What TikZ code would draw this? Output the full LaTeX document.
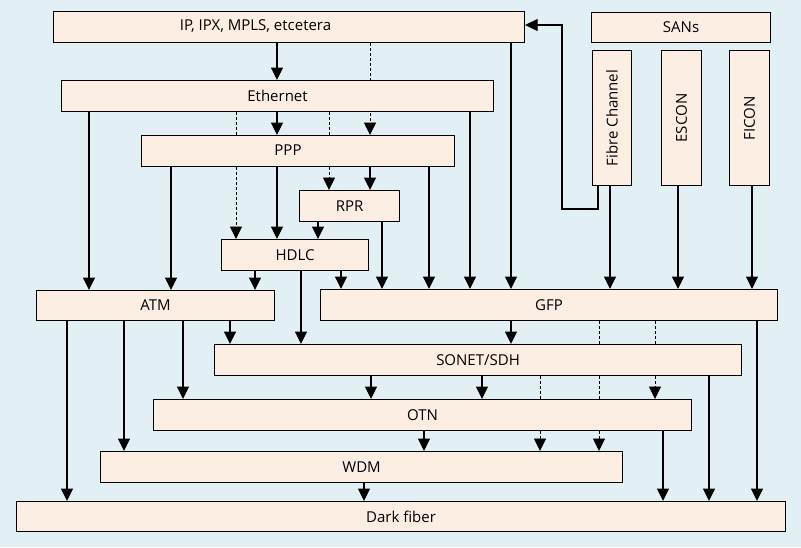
\documentclass[tikz,border=0pt]{standalone}
\usepackage{fontspec}
\setmainfont{Open Sans}
\usetikzlibrary{arrows.meta,backgrounds}
\definecolor{bgc}{RGB}{226,240,245}
\definecolor{boxc}{RGB}{253,238,228}
\newcommand\bx[6]{\node[box,minimum width=#4pt,minimum height=#5pt] (#1) at (#2,#3) {#6};}
\newcommand\lnk[4][]{\draw[arr,#1] (#2,0 |- #3.south) -- (#2,0 |- #4.north);}
\begin{document}
\begin{tikzpicture}[x=1pt,y=-1pt,
  lbl/.style={inner sep=0pt, font=\fontsize{15}{17}\selectfont},
  box/.style={draw=black, fill=boxc, line width=1.1pt, inner sep=0pt, anchor=north west, font=\fontsize{15}{17}\selectfont},
  arr/.style={line width=1.1pt, -{Triangle[length=12.5pt,width=12pt]}},
  dsh/.style={line width=0.9pt, dash pattern=on 3pt off 2pt}]
\useasboundingbox (0,0) rectangle (801,547);
% boxes
\bx{ip}{53}{11}{471}{31}{}
\node[lbl] (iplbl) at (255.5,26.5) {IP, IPX, MPLS, etcetera};
\bx{sans}{591}{12}{179}{30}{SANs}
\bx{eth}{61}{80}{432}{31}{Ethernet}
\bx{ppp}{141}{135}{313}{31}{}
\node[lbl] (ppplbl) at (288,150.5) {PPP};
\bx{fc}{592}{50}{39}{135}{\rotatebox{90}{Fibre Channel}}
\bx{escon}{661}{50}{40}{135}{\rotatebox{90}{ESCON}}
\bx{ficon}{729}{50}{40}{135}{\rotatebox{90}{FICON}}
\bx{rpr}{299}{190}{100}{31}{RPR}
\bx{hdlc}{221}{239}{147}{31}{HDLC}
\bx{atm}{36}{290}{238}{30}{ATM}
\bx{gfp}{320}{289}{457}{31}{GFP}
\bx{sonet}{214}{344}{527}{31}{SONET/SDH}
\bx{otn}{153}{399}{538}{31}{OTN}
\bx{wdm}{100}{451}{522}{31}{WDM}
\bx{dark}{16}{501}{769}{30}{Dark fiber}
\begin{pgfonlayer}{background}
\fill[bgc] (0,0) rectangle (801,547);
% solid connectors
\lnk{277}{ip}{eth}
\lnk{511}{ip}{gfp}
\lnk{277}{eth}{ppp}
\lnk{89}{eth}{atm}
\lnk{470}{eth}{gfp}
\lnk{277}{ppp}{hdlc}
\lnk{171}{ppp}{atm}
\lnk{370}{ppp}{rpr}
\lnk{429}{ppp}{gfp}
\lnk{318}{rpr}{hdlc}
\lnk{382}{rpr}{gfp}
\lnk{255}{hdlc}{atm}
\lnk{301}{hdlc}{sonet}
\lnk{341}{hdlc}{gfp}
\lnk{230}{atm}{sonet}
\lnk{183}{atm}{otn}
\lnk{124}{atm}{wdm}
\lnk{67}{atm}{dark}
\lnk{511}{gfp}{sonet}
\lnk{757}{gfp}{dark}
\lnk{371}{sonet}{otn}
\lnk{482}{sonet}{otn}
\lnk{709}{sonet}{dark}
\lnk{424}{otn}{wdm}
\lnk{663}{otn}{dark}
\lnk{364}{wdm}{dark}
\lnk{610}{fc}{gfp}
\lnk{678}{escon}{gfp}
\lnk{752}{ficon}{gfp}
\coordinate (fc1) at (598,209);
\coordinate (fc2) at (562,209);
\draw[arr] (598,0 |- fc.south) -- (fc1) -- (fc2) -- (562,25) -- (ip.east |- 0,25);
% dashed connectors
\lnk[dsh]{370}{ip}{ppp}
\lnk[dsh]{236}{eth}{hdlc}
\lnk[dsh]{329}{eth}{rpr}
\lnk[dsh]{599}{gfp}{wdm}
\lnk[dsh]{655}{gfp}{otn}
\lnk[dsh]{540}{sonet}{wdm}
\end{pgfonlayer}
\end{tikzpicture}
\end{document}
